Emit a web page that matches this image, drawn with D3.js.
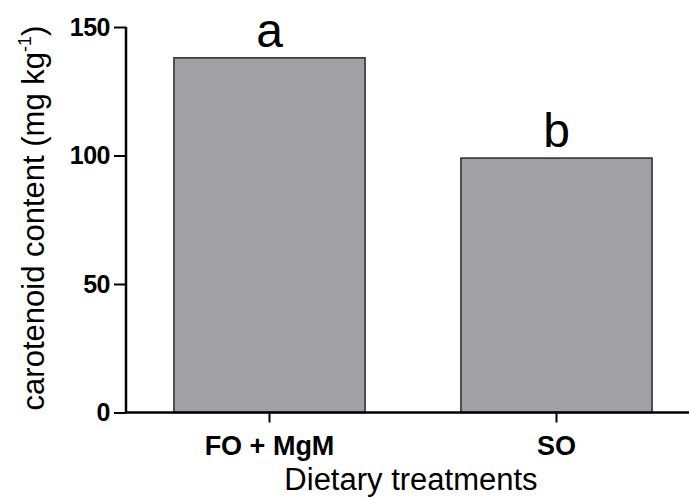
<!DOCTYPE html>
<html>
<head>
<meta charset="utf-8">
<script src="https://cdn.jsdelivr.net/npm/d3@7"></script>
<style>
  body { margin: 0; background: #fff; }
  svg text { font-family: "Liberation Sans", Arial, sans-serif; }
</style>
</head>
<body>
<svg id="chart" width="689" height="499"></svg>
<script>
var treatments = ["FO + MgM", "SO"];
var carotenoid = [138, 99];
var letters = ["a", "b"];
var yTicks = [0, 50, 100, 150];

var svg = d3.select("#chart");

var x = d3.scaleBand()
    .domain(treatments)
    .range([126, 700])
    .paddingInner(0.334)
    .paddingOuter(0.167);

var y = d3.scaleLinear()
    .domain([0, 150])
    .range([412.5, 27]);

// bars
svg.selectAll("rect.bar")
    .data(carotenoid)
    .enter().append("rect")
    .attr("class", "bar")
    .attr("x", function (d, i) { return x(treatments[i]); })
    .attr("y", function (d) { return y(d); })
    .attr("width", x.bandwidth())
    .attr("height", function (d) { return y(0) - y(d); })
    .style("fill", "#a1a0a5")
    .style("stroke", "#2a2a2a")
    .style("stroke-width", 1.5);

// significance letters
svg.selectAll("text.sig")
    .data(letters)
    .enter().append("text")
    .attr("class", "sig")
    .attr("x", function (d, i) { return x(treatments[i]) + x.bandwidth() / 2; })
    .attr("y", function (d, i) { return y(carotenoid[i]) - 11; })
    .attr("text-anchor", "middle")
    .style("font-size", "48px")
    .text(function (d) { return d; });

// y axis
var yAxis = svg.append("g")
    .attr("transform", "translate(126,0)")
    .call(d3.axisLeft(y).tickValues(yTicks).tickSize(12).tickPadding(4).tickSizeOuter(0));
yAxis.select(".domain").attr("stroke-width", 2.5).attr("d", "M0," + y(150) + "V" + y(0));
yAxis.selectAll(".tick line").attr("stroke-width", 2);
yAxis.selectAll(".tick text")
    .style("font-size", "25px")
    .style("font-weight", "bold")
    .style("letter-spacing", "-0.5px")
    .attr("fill", "#000");

// x axis
var xAxis = svg.append("g")
    .attr("transform", "translate(0,412.5)")
    .call(d3.axisBottom(x).tickSize(10).tickPadding(13).tickSizeOuter(0));
xAxis.select(".domain").attr("stroke-width", 2.5).attr("d", "M125,0H689");
xAxis.selectAll(".tick line").attr("stroke-width", 2);
xAxis.selectAll(".tick text")
    .style("font-size", "27px")
    .style("font-weight", "bold")
    .attr("fill", "#000");

// axis titles
svg.append("text")
    .attr("transform", "translate(44,218) rotate(-90)")
    .attr("text-anchor", "middle")
    .style("font-size", "31px")
    .html('carotenoid content (mg kg<tspan dy="-13" font-size="18px">-1</tspan><tspan dy="13">)</tspan>');

svg.append("text")
    .attr("x", 411)
    .attr("y", 490)
    .attr("text-anchor", "middle")
    .style("font-size", "31px")
    .text("Dietary treatments");
</script>
</body>
</html>
